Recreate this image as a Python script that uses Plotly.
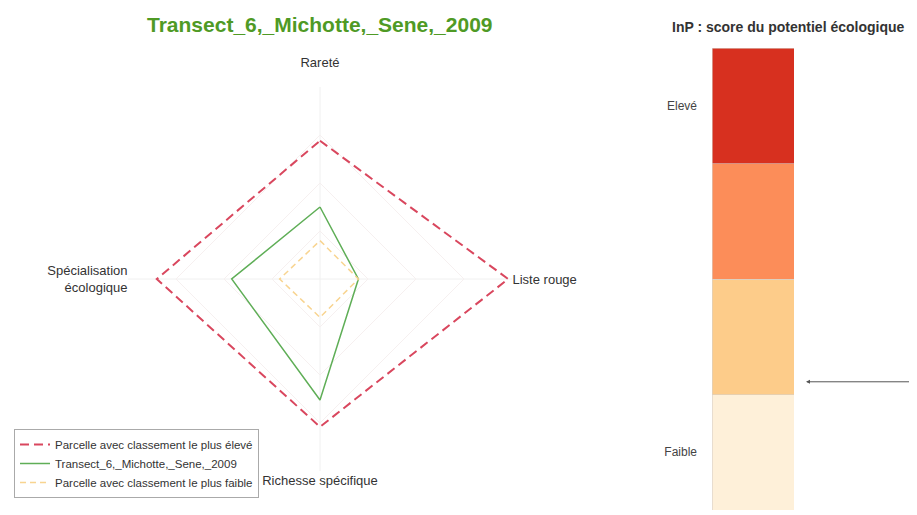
import plotly.graph_objects as go

categories = ["Rareté<br> ", "Liste rouge", "Richesse spécifique", "Spécialisation<br>écologique"]
max_values = [0.72, 0.98, 0.77, 0.85]
site_values = [0.375, 0.20, 0.63, 0.46]
min_values = [0.20, 0.20, 0.20, 0.21]

site_name = "Transect_6,_Michotte,_Sene,_2009"
max_name = "Parcelle avec classement le plus élevé"
min_name = "Parcelle avec classement le plus faible"

score_segments = ["Faible", "Moyen-faible", "Moyen-élevé", "Elevé"]
segment_sizes = [1, 1, 1, 1]
segment_colors = ["#fef0d9", "#fdcc8a", "#fc8d59", "#d7301f"]
score_ticks = [0.5, 3.5]
score_ticklabels = ["Faible", "Elevé"]
site_score = 1.11

FONT = "Liberation Sans, Arial, sans-serif"

# the page body adds an 8px margin; lay out in a 909x507 figure
W, H, OFF = 909, 507, 8


def px(x):
    return (x - OFF) / W


def py(y):
    return 1 - (y - OFF) / H


def closed(v):
    return list(v) + [v[0]]


fig = go.Figure()
fig.add_trace(go.Scatterpolar(r=closed(max_values), theta=closed(categories), mode="lines",
                              name=max_name, line=dict(color="#d9475e", dash="9px,5px", width=2)))
fig.add_trace(go.Scatterpolar(r=closed(site_values), theta=closed(categories), mode="lines",
                              name=site_name, line=dict(color="#5fae57", width=1.5)))
fig.add_trace(go.Scatterpolar(r=closed(min_values), theta=closed(categories), mode="lines",
                              name=min_name, line=dict(color="#f8d490", dash="6px,4px", width=1.5)))

for name, size, color in zip(score_segments, segment_sizes, segment_colors):
    fig.add_trace(go.Bar(x=[0], y=[size], name=name,
                         marker=dict(color=color, line=dict(color="#d8d0c8", width=0.6)),
                         width=1, showlegend=False, xaxis="x", yaxis="y", hoverinfo="skip"))

fig.update_layout(
    width=W, height=H,
    margin=dict(l=0, r=0, t=0, b=0),
    paper_bgcolor="white", plot_bgcolor="white",
    font=dict(family=FONT, size=12, color="#333333"),
    barmode="stack",
    polar=dict(
        domain=dict(x=[px(128), px(512)], y=[py(471), py(87)]),
        bgcolor="white",
        gridshape="linear",
        angularaxis=dict(rotation=90, direction="clockwise", showline=False,
                         gridcolor="#f0f0f0", tickfont=dict(size=13, color="#333333"), ticks=""),
        radialaxis=dict(range=[0, 1], showticklabels=False, showline=False, ticks="",
                        gridcolor="#f6f0f0", tickvals=[0.25, 0.5, 0.75, 1.0]),
    ),
    xaxis=dict(domain=[px(712), px(794)], range=[-0.5, 0.5], visible=False),
    yaxis=dict(domain=[py(510), py(48)], range=[0, 4], tickvals=score_ticks, ticktext=score_ticklabels,
               showgrid=False, zeroline=False, showline=False, ticks="",
               tickfont=dict(size=12, color="#444444"), ticklabelstandoff=14),
    showlegend=True,
    legend=dict(x=px(14), y=py(429), xanchor="left", yanchor="top", traceorder="normal",
                bordercolor="#aaaaaa", borderwidth=1, bgcolor="white",
                font=dict(size=11.5, color="#333333"), itemwidth=30, tracegroupgap=0),
    annotations=[
        dict(text="<b>" + site_name + "</b>", x=px(320), y=py(25), xref="paper", yref="paper",
             showarrow=False, font=dict(size=21, color="#4f9a25", family=FONT),
             xanchor="center", yanchor="middle"),
        dict(text="<b>InP : score du potentiel écologique</b>", x=px(907), y=py(27), xref="paper", yref="paper",
             showarrow=False, font=dict(size=14, color="#333333", family=FONT),
             xanchor="right", yanchor="middle"),
        dict(text="", x=px(806), y=site_score, xref="paper", yref="y", showarrow=True,
             ax=115, ay=0, arrowhead=2, arrowsize=0.8, arrowwidth=1, arrowcolor="#555555"),
    ],
)

fig.write_html("out.html", post_script="document.body.style.overflow='hidden';")
